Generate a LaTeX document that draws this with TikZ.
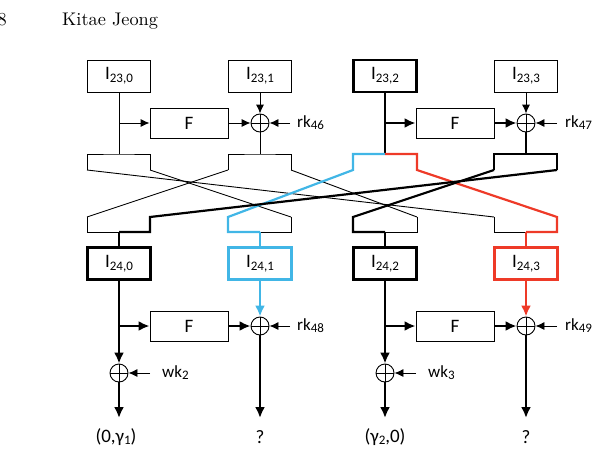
\documentclass[tikz,border=0pt]{standalone}
\usepackage{fontspec}
\setmainfont{Carlito}
\newfontfamily\lmten{lmroman10-regular}[Extension=.otf]
\usetikzlibrary{arrows.meta}
\definecolor{cyanp}{RGB}{65,182,230}
\definecolor{redp}{RGB}{238,58,40}
\newcommand\lab[2]{\fontsize{19}{19}\selectfont #1\raisebox{-0.3ex}{\fontsize{13}{13}\selectfont #2}}
\newcommand\klab[2]{\fontsize{17}{17}\selectfont #1\raisebox{-0.25ex}{\fontsize{13}{13}\selectfont #2}}
\begin{document}
\begin{tikzpicture}[x=1pt,y=-1pt,
  thinw/.style={line width=0.9pt},
  thickw/.style={line width=2.2pt},
  cyw/.style={line width=2.2pt,draw=cyanp},
  rdw/.style={line width=2.2pt,draw=redp},
  arr/.style={-{Latex[length=11pt,width=10pt]}},
  sarr/.style={-{Latex[length=9pt,width=8pt]}},
  boxn/.style={draw,line width=0.9pt,minimum width=63pt,minimum height=32pt,inner sep=0pt,font=\fontsize{19}{19}\selectfont},
  fbox/.style={draw,line width=0.9pt,minimum width=78pt,minimum height=30pt,inner sep=0pt,font=\fontsize{19}{19}\selectfont},
  xorn/.style={circle,draw,line width=0.9pt,minimum size=18pt,inner sep=0pt,
    path picture={\draw[line width=0.9pt] (path picture bounding box.north)--(path picture bounding box.south)
      (path picture bounding box.west)--(path picture bounding box.east);}},
  keyl/.style={anchor=west,inner sep=0pt},
  outl/.style={font=\fontsize{19}{19}\selectfont,inner sep=0pt},
  headl/.style={inner sep=0pt,font=\lmten\fontsize{18.3}{20}\selectfont}
]
\useasboundingbox (0,0) rectangle (601,468);
% header
\node[headl,anchor=base east] (pg) at (7,26) {8};
\node[headl,anchor=base west] (au) at (62,26) {Kitae Jeong};

% top boxes
\node[boxn] (a0) at (119,76) {\lab{I}{23,0}};
\node[boxn] (a1) at (260,76) {\lab{I}{23,1}};
\node[boxn,line width=2.2pt] (a2) at (385,76) {\lab{I}{23,2}};
\node[boxn] (a3) at (526,76) {\lab{I}{23,3}};
\node[fbox] (f1) at (189,123) {F};
\node[fbox] (f2) at (455,123) {F};
\node[xorn] (x1) at (260,123) {};
\node[xorn] (x2) at (526,123) {};
\node[keyl] (k46) at (297,123) {\klab{rk}{46}};
\node[keyl] (k47) at (565,123) {\klab{rk}{47}};

% coordinates
\foreach \i/\c/\l/\r in {0/119/87/150,1/260/228/291,2/385/353/417,3/526/494/557}{
  \coordinate (s\i) at (\c,154);
  \coordinate (m\i) at (\c,232);
  \coordinate (tL\i) at (\l,170);
  \coordinate (tR\i) at (\r,170);
  \coordinate (bL\i) at (\l,217);
  \coordinate (bR\i) at (\r,217);
}

% round 23 wiring
\draw[thinw] (a0.south) -- (s0);
\draw[thinw,sarr] (a0.south |- f1) -- (f1.west);
\draw[thinw,sarr] (f1.east) -- (x1.west);
\draw[thinw,sarr] (a1.south) -- (x1.north);
\draw[thinw,sarr] (k46.west) ++(-7,0) coordinate (k46s) -- (x1.east);
\draw[thinw] (x1.south) -- (s1);
\draw[thinw,sarr] (a3.south) -- (x2.north);
\draw[thinw,sarr] (k47.west) ++(-8,0) coordinate (k47s) -- (x2.east);

% thin permutation lines
\draw[thinw] (tL0) |- (s0) -| (tR0);
\draw[thinw] (tL1) |- (s1) -| (tR1);
\draw[thinw] (tL0) -- (bL3);
\draw[thinw] (tR0) -- (bR1);
\draw[thinw] (tL1) -- (bL0);
\draw[thinw] (tR1) -- (bR2);
\draw[thinw] (bL0) |- (m0);
\draw[thinw] (bR1) |- (m1);
\draw[thinw] (bR2) |- (m2);
\draw[thinw] (bL3) |- (m3);

% thick / coloured
\draw[thickw] (a2.south) -- (s2);
\draw[thickw,arr] (a2.south |- f2) -- (f2.west);
\draw[thickw,arr] (f2.east) -- (x2.west);
\draw[thickw] (x2.south) -- (s3);
\draw[thickw] (tL3) |- (s3) -| (tR3);
\draw[cyw] (s2) -| (tL2) -- (bL1) |- (m1);
\draw[rdw] (s2) -| (tR2) -- (bR3) |- (m3);
\draw[thickw] (tL3) -- (bL2) |- (m2);
\draw[thickw] (tR3) -- (bR0) |- (m0);

% round 24 boxes
\node[boxn,line width=2.2pt] (b0) at (119,263.5) {\lab{I}{24,0}};
\node[boxn,line width=2.2pt,draw=cyanp] (b1) at (260,263.5) {\lab{I}{24,1}};
\node[boxn,line width=2.2pt] (b2) at (385,263.5) {\lab{I}{24,2}};
\node[boxn,line width=2.2pt,draw=redp] (b3) at (526,263.5) {\lab{I}{24,3}};
\draw[cyw] (m1) -- (b1.north);
\draw[thickw] (m0) -- (b0.north);
\draw[thickw] (m2) -- (b2.north);
\draw[rdw] (m3) -- (b3.north);

% lower part
\node[fbox] (f3) at (189,326) {F};
\node[fbox] (f4) at (455,326) {F};
\node[xorn] (x3) at (260,326) {};
\node[xorn] (x4) at (526,326) {};
\node[xorn] (w0) at (119,373) {};
\node[xorn] (w1) at (385,373) {};
\node[keyl] (k48) at (297,326) {\klab{rk}{48}};
\node[keyl] (k49) at (565,326) {\klab{rk}{49}};
\node[keyl] (wk2) at (162,373) {\klab{wk}{2}};
\node[keyl] (wk3) at (428,373) {\klab{wk}{3}};
\coordinate (o0) at (119,418);
\coordinate (o1) at (260,418);
\coordinate (o2) at (385,418);
\coordinate (o3) at (526,418);
\node[outl] (l0) at (116,437) {(0,γ\raisebox{-0.2ex}{\fontsize{13}{13}\selectfont 1})};
\node[outl] (l1) at (260,437) {?};
\node[outl] (l2) at (385,437) {(γ\raisebox{-0.2ex}{\fontsize{13}{13}\selectfont 2},0)};
\node[outl] (l3) at (526,437) {?};

\draw[thickw,arr] (b0.south) -- (w0.north);
\draw[thickw,arr] (b0.south |- f3) -- (f3.west);
\draw[thickw,arr] (f3.east) -- (x3.west);
\draw[cyw,arr] (b1.south) -- (x3.north);
\draw[thinw,sarr] (k48.west) ++(-7,0) coordinate (k48s) -- (x3.east);
\draw[thinw,sarr] (wk2.west) ++(-12,0) coordinate (wk2s) -- (w0.east);
\draw[thickw,arr] (w0.south) -- (o0);
\draw[thickw,arr] (x3.south) -- (o1);

\draw[thickw,arr] (b2.south) -- (w1.north);
\draw[thickw,arr] (b2.south |- f4) -- (f4.west);
\draw[thickw,arr] (f4.east) -- (x4.west);
\draw[rdw,arr] (b3.south) -- (x4.north);
\draw[thinw,sarr] (k49.west) ++(-8,0) coordinate (k49s) -- (x4.east);
\draw[thinw,sarr] (wk3.west) ++(-12,0) coordinate (wk3s) -- (w1.east);
\draw[thickw,arr] (w1.south) -- (o2);
\draw[thickw,arr] (x4.south) -- (o3);
\end{tikzpicture}
\end{document}
